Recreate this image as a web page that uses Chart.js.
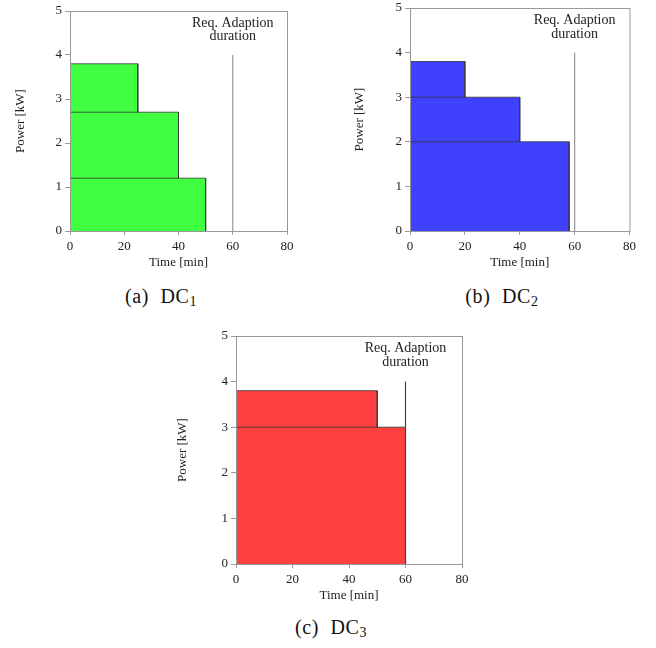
<!DOCTYPE html>
<html>
<head>
<meta charset="utf-8">
<script src="https://cdn.jsdelivr.net/npm/chart.js@4.4.1/dist/chart.umd.min.js"></script>
<style>
    body { margin: 0; background: #fff; }
    .wrap { position: relative; width: 656px; height: 648px; overflow: hidden; }
    canvas { position: absolute; }
    .cap {
        position: absolute;
        font-family: "Liberation Serif", serif;
        font-size: 20px;
        color: #111;
        transform: translate(-50%, -50%);
        white-space: nowrap;
        word-spacing: 6px;
        letter-spacing: 0.6px;
    }
    .cap sub { font-size: 14px; vertical-align: -3px; }
</style>
</head>
<body>
<div class="wrap">
    <canvas id="dc1" width="300" height="270" style="left:0px;top:0px"></canvas>
    <canvas id="dc2" width="300" height="273" style="left:340px;top:-3px"></canvas>
    <canvas id="dc3" width="310" height="278" style="left:166px;top:325px"></canvas>
    <div class="cap" style="left:161px;top:297px">(a) DC<sub>1</sub></div>
    <div class="cap" style="left:502px;top:297px">(b) DC<sub>2</sub></div>
    <div class="cap" style="left:331px;top:628px">(c) DC<sub>3</sub></div>
</div>
<script>
// steps listed widest first so the lower blocks end up drawn on top
const dc1Widths = [50, 40, 25];
const dc1Levels = [1.2, 2.7, 3.8];

const dc2Widths = [58, 40, 20];
const dc2Levels = [2.0, 3.0, 3.8];

const dc3Widths = [60, 50];
const dc3Levels = [3.0, 3.8];

const reqDuration = 60;
const reqLineTop = 4;
const reqLabel = ['Req. Adaption', 'duration'];

const xTicks = [0, 20, 40, 60, 80];
const yTicks = [0, 1, 2, 3, 4, 5];

const serif = '"Liberation Serif", "Times New Roman", serif';
const axisGray = '#999';

// box around the plot area
const framePlugin = {
    id: 'frame',
    afterDraw(chart) {
        const { ctx, chartArea: a } = chart;
        ctx.save();
        ctx.strokeStyle = axisGray;
        ctx.lineWidth = 1;
        ctx.strokeRect(a.left + 0.5, a.top + 0.5, a.right - a.left, a.bottom - a.top);
        ctx.restore();
    }
};

// text above the required duration line
const reqLabelPlugin = {
    id: 'reqLabel',
    afterDatasetsDraw(chart, args, opts) {
        const { ctx, scales } = chart;
        const x = scales.x.getPixelForValue(reqDuration);
        ctx.save();
        ctx.font = '14px ' + serif;
        ctx.fillStyle = '#222';
        ctx.textAlign = 'center';
        ctx.textBaseline = 'middle';
        reqLabel.forEach((line, i) => {
            ctx.fillText(line, x, scales.y.getPixelForValue(opts.rows[i]));
        });
        ctx.restore();
    }
};

function stepSets(widths, levels, fillColor) {
    return widths.map((w, i) => ({
        data: [{ x: 0, y: levels[i] }, { x: w, y: levels[i] }, { x: w, y: 0 }],
        showLine: true,
        fill: 'origin',
        backgroundColor: fillColor,
        borderColor: '#333',
        borderWidth: 0.8,
        pointRadius: 0,
        tension: 0
    }));
}

function makeChart(id, widths, levels, fillColor, pad, titlePad, lineColor) {
    const reqLine = {
        data: [{ x: reqDuration, y: 0 }, { x: reqDuration, y: reqLineTop }],
        showLine: true,
        fill: false,
        borderColor: lineColor,
        borderWidth: 1.2,
        pointRadius: 0
    };
    return new Chart(document.getElementById(id), {
        type: 'scatter',
        data: { datasets: [reqLine, ...stepSets(widths, levels, fillColor)] },
        options: {
            responsive: false,
            animation: false,
            layout: { padding: pad },
            plugins: {
                legend: { display: false },
                tooltip: { enabled: false },
                reqLabel: { rows: [4.72, 4.42] }
            },
            scales: {
                x: {
                    type: 'linear',
                    min: 0,
                    max: 80,
                    afterBuildTicks: (s) => { s.ticks = xTicks.map(v => ({ value: v })); },
                    afterFit: (s) => { s.height = 39; },
                    ticks: { font: { family: serif, size: 13 }, color: '#222', padding: 4, maxRotation: 0 },
                    grid: { drawOnChartArea: false, tickLength: 4, color: axisGray },
                    border: { color: axisGray },
                    title: { display: true, text: 'Time [min]', font: { family: serif, size: 13 }, color: '#222', padding: { top: 0, bottom: 0 } }
                },
                y: {
                    min: 0,
                    max: 5,
                    afterBuildTicks: (s) => { s.ticks = yTicks.map(v => ({ value: v })); },
                    afterFit: (s) => { s.width = 70; },
                    ticks: { font: { family: serif, size: 13 }, color: '#222', padding: 3 },
                    grid: { drawOnChartArea: false, tickLength: 5, color: axisGray },
                    border: { color: axisGray },
                    title: { display: true, text: 'Power [kW]', font: { family: serif, size: 13 }, color: '#222', padding: { top: titlePad, bottom: 0 } }
                }
            }
        },
        plugins: [framePlugin, reqLabelPlugin]
    });
}

makeChart('dc1', dc1Widths, dc1Levels, 'rgb(64,255,64)', { top: 11, right: 13, bottom: 0, left: 0 }, 13, '#999');
makeChart('dc2', dc2Widths, dc2Levels, 'rgb(64,64,255)', { top: 11, right: 10, bottom: 0, left: 0 }, 12, '#999');
makeChart('dc3', dc3Widths, dc3Levels, 'rgb(255,64,64)', { top: 11, right: 14, bottom: 0, left: 0 }, 9, '#444');
</script>
</body>
</html>
